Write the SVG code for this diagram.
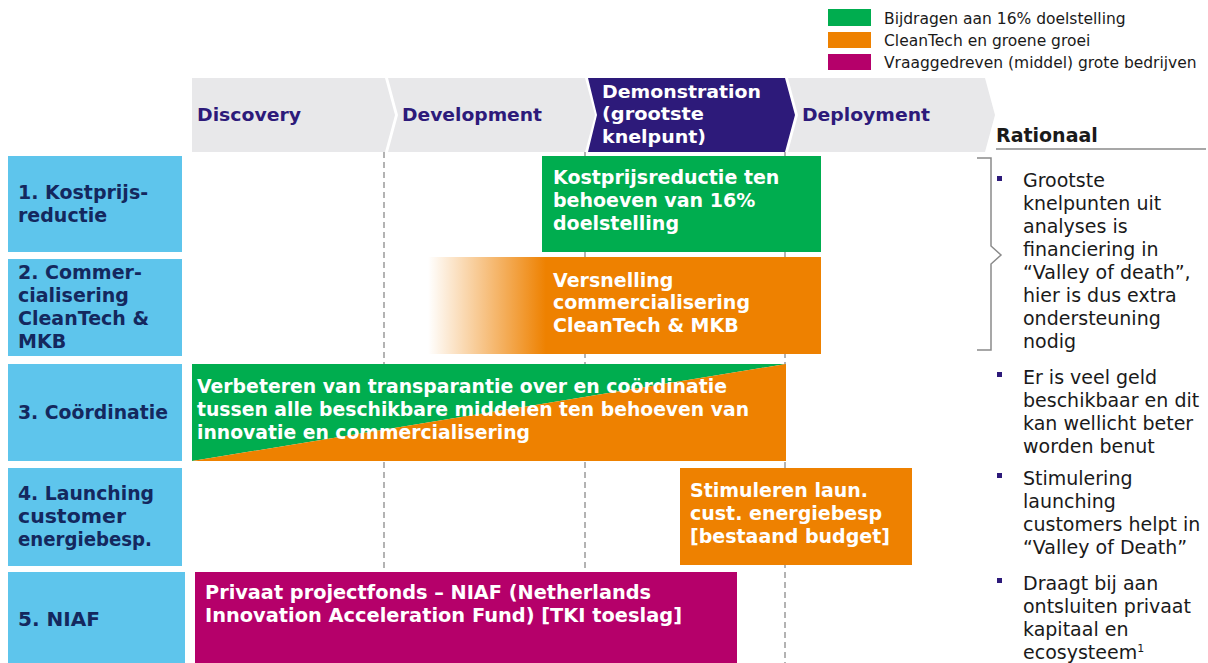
<svg xmlns="http://www.w3.org/2000/svg" width="1208" height="663" viewBox="0 0 1208 663">
<defs>
<linearGradient id="fadeOrange" x1="428" y1="0" x2="821" y2="0" gradientUnits="userSpaceOnUse">
<stop offset="0" stop-color="#ee8100" stop-opacity="0"/>
<stop offset="0.3" stop-color="#ee8100" stop-opacity="1"/>
<stop offset="1" stop-color="#ee8100" stop-opacity="1"/>
</linearGradient>
</defs>
<style>
text{font-family:"DejaVu Sans","Verdana",sans-serif;}
.lg{font-size:15.5px;fill:#1a1a1a;}
.ch{fill:#e8e8ea;}
.chd{fill:#2d1a7a;}
.cht{font-size:18px;font-weight:bold;fill:#2d1a7a;}
.chw{font-size:18px;font-weight:bold;fill:#ffffff;}
.lab{fill:#5ec5ec;}
.lbt{font-size:19px;font-weight:bold;fill:#14285e;}
.bt{font-size:19px;font-weight:bold;fill:#ffffff;}
.rt{font-size:19px;fill:#1a1a1a;}
.bul{fill:#2d1a7a;}
.dash{stroke:#9a9a9a;stroke-width:1.5;stroke-dasharray:6,4;fill:none;}
.gl{stroke:#8a8a8a;stroke-width:1.5;fill:none;}
</style>
<rect width="1208" height="663" fill="#ffffff"/>

<g id="legend">
<rect x="828" y="9" width="43" height="17" fill="#00ad4f"/>
<rect x="828" y="32" width="43" height="16" fill="#ee8100"/>
<rect x="828" y="54" width="43" height="16" fill="#b5006a"/>
<text class="lg" x="884" y="24">Bijdragen aan 16% doelstelling</text>
<text class="lg" x="884" y="46">CleanTech en groene groei</text>
<text class="lg" x="884" y="68">Vraaggedreven (middel) grote bedrijven</text>
</g>

<g id="connectors">
<line class="dash" x1="384" y1="152" x2="384" y2="663"/>
<line class="dash" x1="585" y1="152" x2="585" y2="663"/>
<line class="dash" x1="785" y1="152" x2="785" y2="663"/>
<path class="gl" d="M977,158 L991,158 L991,246 L1001,255 L991,264 L991,350 L977,350"/>
<line class="gl" x1="996" y1="149" x2="1206" y2="149"/>
</g>

<g id="phase-discovery">
<path class="ch" d="M192,78 L385,78 L395,115 L385,152 L192,152 Z"/>
<text class="cht" x="197" y="121" textLength="104" lengthAdjust="spacingAndGlyphs">Discovery</text>
</g>
<g id="phase-development">
<path class="ch" d="M388,78 L585,78 L595,115 L585,152 L388,152 L398,115 Z"/>
<text class="cht" x="402" y="121" textLength="140" lengthAdjust="spacingAndGlyphs">Development</text>
</g>
<g id="phase-demonstration">
<path class="chd" d="M588,78 L785,78 L795,115 L785,152 L588,152 L597,115 Z"/>
<text class="chw" x="602" y="98" textLength="159" lengthAdjust="spacingAndGlyphs">Demonstration</text>
<text class="chw" x="602" y="120" textLength="102" lengthAdjust="spacingAndGlyphs">(grootste</text>
<text class="chw" x="602" y="143" textLength="104" lengthAdjust="spacingAndGlyphs">knelpunt)</text>
</g>
<g id="phase-deployment">
<path class="ch" d="M788,78 L985,78 L995,115 L985,152 L788,152 L798,115 Z"/>
<text class="cht" x="802" y="121" textLength="128" lengthAdjust="spacingAndGlyphs">Deployment</text>
</g>

<g id="row1-label">
<rect class="lab" x="8" y="156" width="174" height="96"/>
<text class="lbt" x="18" y="199">1. Kostprijs-</text>
<text class="lbt" x="18" y="222">reductie</text>
</g>
<g id="row2-label">
<rect class="lab" x="8" y="259" width="174" height="97"/>
<text class="lbt" x="18" y="279">2. Commer-</text>
<text class="lbt" x="18" y="302">cialisering</text>
<text class="lbt" x="18" y="325">CleanTech &amp;</text>
<text class="lbt" x="18" y="348">MKB</text>
</g>
<g id="row3-label">
<rect class="lab" x="8" y="364" width="174" height="97"/>
<text class="lbt" x="18" y="419" textLength="150" lengthAdjust="spacingAndGlyphs">3. Coördinatie</text>
</g>
<g id="row4-label">
<rect class="lab" x="8" y="468" width="174" height="98"/>
<text class="lbt" x="18" y="500" textLength="136" lengthAdjust="spacingAndGlyphs">4. Launching</text>
<text class="lbt" x="18" y="523" textLength="108" lengthAdjust="spacingAndGlyphs">customer</text>
<text class="lbt" x="18" y="546" textLength="134" lengthAdjust="spacingAndGlyphs">energiebesp.</text>
</g>
<g id="row5-label">
<rect class="lab" x="8" y="572" width="177" height="91"/>
<text class="lbt" x="18" y="626" textLength="82" lengthAdjust="spacingAndGlyphs">5. NIAF</text>
</g>

<g id="bar-kostprijs">
<rect x="542" y="156" width="279" height="96" fill="#00ad4f"/>
<text class="bt" x="553" y="184">Kostprijsreductie ten</text>
<text class="bt" x="553" y="207">behoeven van 16%</text>
<text class="bt" x="553" y="230">doelstelling</text>
</g>
<g id="bar-versnelling">
<rect x="428" y="257" width="393" height="97" fill="url(#fadeOrange)"/>
<text class="bt" x="553" y="287">Versnelling</text>
<text class="bt" x="553" y="309">commercialisering</text>
<text class="bt" x="553" y="332">CleanTech &amp; MKB</text>
</g>
<g id="bar-coordinatie">
<polygon points="192,364 786,364 192,461" fill="#00ad4f"/>
<polygon points="786,364 786,461 192,461" fill="#ee8100"/>
<text class="bt" x="197" y="393" textLength="530" lengthAdjust="spacingAndGlyphs">Verbeteren van transparantie over en coördinatie</text>
<text class="bt" x="197" y="416" textLength="552" lengthAdjust="spacingAndGlyphs">tussen alle beschikbare middelen ten behoeven van</text>
<text class="bt" x="197" y="439" textLength="333" lengthAdjust="spacingAndGlyphs">innovatie en commercialisering</text>
</g>
<g id="bar-launching">
<rect x="680" y="468" width="232" height="97" fill="#ee8100"/>
<text class="bt" x="690" y="497">Stimuleren laun.</text>
<text class="bt" x="690" y="520">cust. energiebesp</text>
<text class="bt" x="690" y="543">[bestaand budget]</text>
</g>
<g id="bar-niaf">
<rect x="195" y="572" width="542" height="91" fill="#b5006a"/>
<text class="bt" x="205" y="599" textLength="446" lengthAdjust="spacingAndGlyphs">Privaat projectfonds – NIAF (Netherlands</text>
<text class="bt" x="205" y="622" textLength="477" lengthAdjust="spacingAndGlyphs">Innovation Acceleration Fund) [TKI toeslag]</text>
</g>

<g id="rationaal">
<text x="996" y="142" style="font-size:19px;font-weight:bold;fill:#1a1a1a;">Rationaal</text>
<rect class="bul" x="997" y="176" width="5" height="5"/>
<text class="rt" x="1023" y="187">Grootste</text>
<text class="rt" x="1023" y="210">knelpunten uit</text>
<text class="rt" x="1023" y="233">analyses is</text>
<text class="rt" x="1023" y="256">financiering in</text>
<text class="rt" x="1023" y="279">“Valley of death”,</text>
<text class="rt" x="1023" y="302">hier is dus extra</text>
<text class="rt" x="1023" y="325">ondersteuning</text>
<text class="rt" x="1023" y="348">nodig</text>
<rect class="bul" x="997" y="372" width="5" height="5"/>
<text class="rt" x="1023" y="384">Er is veel geld</text>
<text class="rt" x="1023" y="407">beschikbaar en dit</text>
<text class="rt" x="1023" y="430">kan wellicht beter</text>
<text class="rt" x="1023" y="453">worden benut</text>
<rect class="bul" x="997" y="473" width="5" height="5"/>
<text class="rt" x="1023" y="485">Stimulering</text>
<text class="rt" x="1023" y="508">launching</text>
<text class="rt" x="1023" y="531">customers helpt in</text>
<text class="rt" x="1023" y="554">“Valley of Death”</text>
<rect class="bul" x="997" y="578" width="5" height="5"/>
<text class="rt" x="1023" y="590">Draagt bij aan</text>
<text class="rt" x="1023" y="613">ontsluiten privaat</text>
<text class="rt" x="1023" y="636">kapitaal en</text>
<text class="rt" x="1023" y="659">ecosysteem<tspan style="font-size:11px;" dy="-7">1</tspan></text>
</g>
</svg>
